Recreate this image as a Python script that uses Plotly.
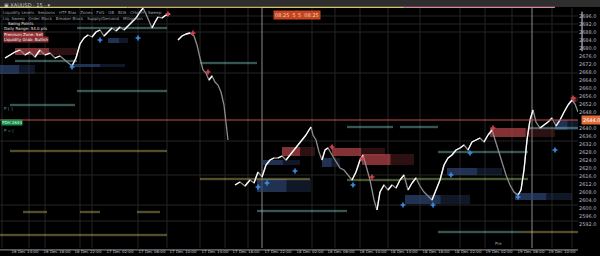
import plotly.graph_objects as go

# ---------------- DATA ----------------
seg1_x = [5,10,15,20,25,30,35,40,45,50,55,60,65,68,72,76,80,84,88,92,96,100,104,108,112,116,120,124,128,132,136,140,143,146,149,152,155,158,162,166,170]
seg1_p = [2675,2676.5,2678,2679,2676.5,2678,2675.5,2679,2676.5,2677.5,2675,2676,2674,2672.5,2671,2675,2682,2685,2686.5,2685.5,2688,2689,2686,2688,2690,2688.5,2690.5,2689,2691,2693,2695,2698,2700,2697,2693,2690,2693,2695.5,2695,2696.5,2697]
seg2_x = [178,182,186,190,194,197,200,203,206,209,212,215,218,221,224,226,228]
seg2_p = [2684,2686,2687,2687.5,2686,2681.5,2675,2669,2667.5,2664,2666,2663,2661.5,2658,2651.5,2644,2634]
seg3_x = [235,240,245,250,254,258,262,266,270,274,278,282,286,290,294,298,302,306,309,311,313,316,319,322,325,328,332,336,340,344,348,352,356,360,363,366,370,374,377,380,384,388,392,396,400,404,408,412,416,420,424,428,432,436,440,444,448,452,456,460,464,468,472,476,480,484,488,492,495,498,502,506,510,514,518,521,524,527,530,533,536,540,544,548,552,556,560,564,568,572,575,578]
seg3_p = [2611.5,2613,2611,2614,2612.5,2618,2615.5,2621.5,2624,2625,2625,2626,2624,2626.5,2629,2631.5,2634,2636.5,2639,2640.5,2636.5,2634,2628,2624,2629,2630,2626.5,2623,2620,2619,2616.5,2614,2618,2624,2626.5,2621.5,2614,2604,2599,2608,2611.5,2609,2611.5,2610,2614,2616.5,2609,2612.5,2615,2611,2608,2606,2604,2609,2614,2621.5,2625,2626.5,2629,2630,2631.5,2629,2633,2634,2635,2633,2636.5,2639,2634,2629,2623,2616.5,2611.5,2608,2606.5,2609,2619,2634,2644,2649,2643,2640,2641.5,2643,2645,2641,2644,2648,2651.5,2654,2652,2648]

zone_x0 = [15, 0, 70, 108, 282, 262, 257, 332, 362, 322, 405, 447, 490, 555, 573, 515]
zone_x1 = [77, 35, 125, 128, 315, 300, 311, 385, 414, 340, 470, 502, 555, 578, 578, 572]
zone_top = [2680, 2671.5, 2672, 2685, 2630.5, 2624, 2614.5, 2630, 2627, 2625, 2606.5, 2620, 2640, 2644, 2655.5, 2607.5]
zone_bot = [2676.5, 2667, 2670.5, 2682.5, 2626, 2621.5, 2608, 2626, 2621.5, 2620.5, 2602, 2616.5, 2635.5, 2639, 2653, 2604]
zone_kind = ["sell", "buy", "buy", "buy", "sell", "buy", "buy", "sell", "sell", "buy", "buy", "buy", "sell", "buy", "sell", "buy"]

lvl_x0 = [77, 15, 200, 77, 10, 10, 23, 80, 137, 0, 257, 200, 347, 347, 400, 438, 400, 528, 438, 520]
lvl_x1 = [167, 77, 257, 167, 75, 167, 47, 100, 160, 167, 347, 310, 400, 393, 438, 528, 528, 578, 520, 578]
lvl_p = [2690, 2673.5, 2672.5, 2658.5, 2651.5, 2628.5, 2598, 2598, 2598, 2586.5, 2598.5, 2614.5, 2614, 2640.5, 2640.5, 2628, 2614.5, 2640, 2588, 2588]
lvl_kind = ["c", "c", "c", "c", "c", "y", "y", "y", "y", "y", "c", "y", "g", "c", "c", "c", "g", "c", "c", "y"]

buy_x = [72, 100, 138, 258, 267, 295, 353, 403, 433, 451, 470, 518, 555]
buy_p = [2670.5, 2684, 2685, 2610.5, 2612.5, 2618.5, 2611.5, 2601.5, 2601.5, 2616.5, 2627.5, 2605.5, 2629]
sell_x = [168, 193, 208, 332, 362, 372, 493, 573]
sell_p = [2697, 2687.5, 2668, 2630.5, 2624.5, 2615.5, 2640, 2655]

key_level = 2644.0

x_tickvals = [25, 57, 88, 120, 152, 183, 215, 246, 278, 310, 341, 373, 404, 436, 468, 499, 531, 562]
x_ticktext = ["16 Dec 14:00", "16 Dec 18:00", "16 Dec 22:00", "17 Dec 02:00", "17 Dec 06:00",
              "17 Dec 10:00", "17 Dec 14:00", "17 Dec 18:00", "17 Dec 22:00", "18 Dec 02:00",
              "18 Dec 06:00", "18 Dec 10:00", "18 Dec 14:00", "18 Dec 18:00", "18 Dec 22:00",
              "19 Dec 02:00", "19 Dec 06:00", "19 Dec 10:00"]
y_tickvals = [2696 - 4 * i for i in range(27)]

# ---------------- FIGURE ----------------
fig = go.Figure()
shapes = []

# grid
for gx in [2, 29, 45, 80, 92, 138, 167, 200, 225, 248, 312, 335, 360, 388, 420, 460, 485, 512, 552, 572]:
    shapes.append(dict(type="line", xref="x", yref="paper", x0=gx, x1=gx, y0=0, y1=1,
                       line=dict(color="#242424", width=1), layer="below"))
for gp in [2696, 2692, 2688, 2667.5, 2633.5, 2616.5, 2601.5, 2593.5]:
    shapes.append(dict(type="line", xref="paper", yref="y", x0=0, x1=1, y0=gp, y1=gp,
                       line=dict(color="#242424", width=1), layer="below"))
for gx in [262, 532]:
    shapes.append(dict(type="line", xref="x", yref="paper", x0=gx, x1=gx, y0=0, y1=1,
                       line=dict(color="#8a8a8a", width=1), layer="below"))

# zones
for x0, x1, t, b, k in zip(zone_x0, zone_x1, zone_top, zone_bot, zone_kind):
    col_strong = "rgba(185,70,75,0.7)" if k == "sell" else "rgba(45,70,115,0.7)"
    col_weak = "rgba(150,55,60,0.3)" if k == "sell" else "rgba(40,60,100,0.4)"
    mid = x0 + (x1 - x0) * 0.55
    shapes.append(dict(type="rect", xref="x", yref="y", x0=x0, x1=mid, y0=b, y1=t,
                       fillcolor=col_strong, line=dict(width=0), layer="below"))
    shapes.append(dict(type="rect", xref="x", yref="y", x0=mid, x1=x1, y0=b, y1=t,
                       fillcolor=col_weak, line=dict(width=0), layer="below"))

# key level line
shapes.append(dict(type="line", xref="paper", yref="y", x0=0, x1=1, y0=key_level, y1=key_level,
                   line=dict(color="#c4504a", width=1)))

# top bar
shapes.append(dict(type="rect", xref="paper", yref="paper", x0=0, x1=1.04, y0=1.004, y1=1.04,
                   fillcolor="#2e2e2e", line=dict(width=0)))
for x0, x1, c in [(0.0, 0.22, "#d6c36a"), (0.22, 0.45, "#c8b060"), (0.45, 0.70, "#d6c36a"),
                  (0.70, 0.96, "#d9899e")]:
    shapes.append(dict(type="line", xref="paper", yref="paper", x0=x0, x1=x1, y0=1.003, y1=1.003,
                       line=dict(color=c, width=1.2)))
# right scale bar
shapes.append(dict(type="line", xref="paper", yref="paper", x0=1.007, x1=1.007, y0=0.82, y1=0.985,
                   line=dict(color="#dddddd", width=1)))
# bottom axis line
shapes.append(dict(type="line", xref="paper", yref="paper", x0=0, x1=1.0, y0=-0.008, y1=-0.008,
                   line=dict(color="#9a9a9a", width=1)))

# levels (glow lines)
cmap = {"c": "#8fe0d8", "y": "#d8c86e", "g": "#b8e07a"}
for x0, x1, p, k in zip(lvl_x0, lvl_x1, lvl_p, lvl_kind):
    fig.add_trace(go.Scatter(x=[x0, x1], y=[p, p], mode="lines",
                             line=dict(color=cmap[k], width=3), opacity=0.12,
                             hoverinfo="skip", showlegend=False))
    fig.add_trace(go.Scatter(x=[x0, x1], y=[p, p], mode="lines",
                             line=dict(color=cmap[k], width=1), opacity=0.6,
                             hoverinfo="skip", showlegend=False))

# price (gray base, white up-moves)
for sx, sp in [(seg1_x, seg1_p), (seg2_x, seg2_p), (seg3_x, seg3_p)]:
    fig.add_trace(go.Scatter(x=sx, y=sp, mode="lines", line=dict(color="#8c8c8c", width=1.3),
                             hoverinfo="skip", showlegend=False))
    ux, up = [], []
    for i in range(1, len(sx)):
        if sp[i] > sp[i - 1]:
            ux += [sx[i - 1], sx[i], None]
            up += [sp[i - 1], sp[i], None]
    fig.add_trace(go.Scatter(x=ux, y=up, mode="lines", line=dict(color="#ffffff", width=1.3),
                             hoverinfo="skip", showlegend=False))

# signals
fig.add_trace(go.Scatter(x=buy_x, y=buy_p, mode="markers",
                         marker=dict(symbol="cross", size=4, color="#3a8ee6"),
                         hoverinfo="skip", showlegend=False))
fig.add_trace(go.Scatter(x=sell_x, y=sell_p, mode="markers",
                         marker=dict(symbol="cross", size=4, color="#d8404f"),
                         hoverinfo="skip", showlegend=False))

ann = []
# top-left legend text
legend_lines = [
    ("Liquidity Levels · Sessions · HTF Bias · Zones · FVG · OB · BOS · CHoCH · Sweep", 0.003, 0.994, "#9aa6b0", None),
    ("Liq. Sweep   Order Block   Breaker Block   Supply/Demand   Mitigation", 0.003, 0.972, "#9aa6b0", None),
    ("Swing Points", 0.012, 0.950, "#e6e6e6", None),
    ("Daily Range: 54.0 pts", 0.006, 0.928, "#e6e6e6", None),
    ("Premium Zone: Sell", 0.006, 0.906, "#ffffff", "rgba(180,60,60,0.8)"),
    ("Liquidity Grab: Bullish", 0.006, 0.884, "#ffffff", "rgba(160,55,60,0.8)"),
]
for t, xx, yy, c, bg in legend_lines:
    ann.append(dict(text=t, xref="paper", yref="paper", x=xx, y=yy, xanchor="left", yanchor="top",
                    showarrow=False, font=dict(size=4, color=c, family="DejaVu Sans"),
                    bgcolor=bg, borderpad=0))
# top center labels
for t, xx in [("08:25  5", 285), ("5  08:25", 308)]:
    ann.append(dict(text=t, xref="x", yref="paper", x=xx, y=0.992, yanchor="top", showarrow=False,
                    font=dict(size=5, color="#f0d0c0", family="DejaVu Sans"),
                    bgcolor="#c4461e", borderpad=1))
# key level labels
ann.append(dict(text="PDH 2644", xref="paper", yref="y", x=0.002, y=key_level - 1.2, xanchor="left",
                showarrow=False, font=dict(size=4, color="#d0ffe0", family="DejaVu Sans"),
                bgcolor="#1d8a4c", borderpad=0))
ann.append(dict(text="2644.0", xref="paper", yref="y", x=1.005, y=key_level, xanchor="left",
                showarrow=False, font=dict(size=5, color="#ffffff", family="DejaVu Sans"),
                bgcolor="#e06a3a", borderpad=1))
for t, yv in [("P |  |", 2650), ("P = |", 2639)]:
    ann.append(dict(text=t, xref="paper", yref="y", x=0.003, y=yv, xanchor="left", showarrow=False,
                    font=dict(size=4, color="#6ea0a0", family="DejaVu Sans")))
ann.append(dict(text="Pre", xref="x", yref="paper", x=498, y=0.0, yanchor="bottom", showarrow=False,
                font=dict(size=4, color="#aaaaaa", family="DejaVu Sans")))
ann.append(dict(text="▣ XAUUSD · 15 · ▾", xref="paper", yref="paper", x=0.003, y=1.035, xanchor="left",
                yanchor="top", showarrow=False, font=dict(size=5, color="#cccccc", family="DejaVu Sans")))

y_ticktext = ["" if abs(v - key_level) < 3 else f"{v:.1f}" for v in y_tickvals]

fig.update_layout(
    width=600, height=256,
    margin=dict(l=0, r=22, t=8, b=8),
    paper_bgcolor="#000000", plot_bgcolor="#000000",
    shapes=shapes, annotations=ann, showlegend=False,
    xaxis=dict(range=[0, 578], tickvals=x_tickvals, ticktext=x_ticktext, showgrid=False,
               zeroline=False, showline=False, ticks="", tickangle=0,
               tickfont=dict(size=4, color="#c8c8d8", family="DejaVu Sans")),
    yaxis=dict(range=[2580, 2700], side="right", tickvals=y_tickvals,
               ticktext=y_ticktext, showgrid=False, zeroline=False,
               showline=False, ticks="", tickfont=dict(size=5, color="#b8b8c8", family="DejaVu Sans")),
)

fig.write_html("out.html")
